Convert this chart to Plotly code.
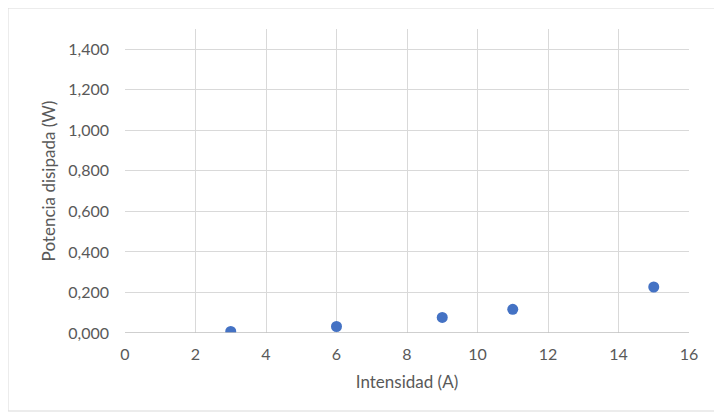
import plotly.graph_objects as go

intensidad = [3, 6, 9, 11, 15]
potencia = [0.008, 0.032, 0.077, 0.117, 0.227]

OFF = 8  # page body margin offset
L, R, T, B = 125 - OFF, 33 + OFF, 29 - OFF, 86 + OFF
W, H = 722, 419
pw, ph = W - L - R, H - T - B

fig = go.Figure(go.Scatter(
    x=intensidad, y=potencia, mode="markers",
    marker=dict(color="#4472C4", size=11),
    showlegend=False,
))

font = dict(family="Lato, 'Open Sans', sans-serif", color="#595959", size=16)

fig.update_layout(
    width=W, height=H,
    margin=dict(l=L, r=R, t=T, b=B),
    paper_bgcolor="white", plot_bgcolor="white",
    separators=",.",
    font=font,
    xaxis=dict(
        range=[0, 16], dtick=2, tick0=0,
        showgrid=True, gridcolor="#d9d9d9", gridwidth=1,
        zeroline=False, showline=False, ticks="",
        ticklabelstandoff=10,
        title=dict(text="Intensidad (A)", font=dict(size=17, color="#595959"), standoff=14),
        tickfont=dict(size=16, color="#595959"),
    ),
    yaxis=dict(
        range=[0, 1.5], dtick=0.2, tick0=0, tickformat=".3f",
        showgrid=True, gridcolor="#d9d9d9", gridwidth=1,
        zeroline=False, showline=False, ticks="",
        ticklabelstandoff=15,
        title=dict(text="Potencia disipada (W)", font=dict(size=17, color="#595959"), standoff=8),
        tickfont=dict(size=16, color="#595959"),
    ),
    shapes=[
        dict(type="line", xref="paper", yref="y", x0=0, x1=1, y0=0, y1=0,
             line=dict(color="#bfbfbf", width=1.5)),
        dict(type="rect", xref="paper", yref="paper",
             x0=(8 - 125) / pw, x1=(715 - 125) / pw,
             y0=(333 - 411) / ph, y1=(333 - 8) / ph,
             line=dict(color="#d9d9d9", width=1), layer="below"),
    ],
)

fig.write_html("out.html")
